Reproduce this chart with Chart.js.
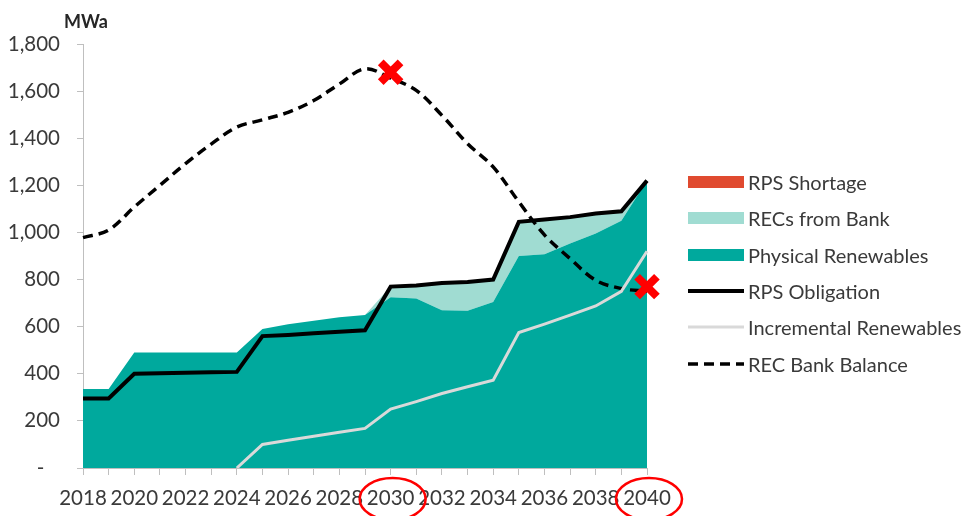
<!DOCTYPE html>
<html>
<head>
<meta charset="utf-8">
<script src="https://cdn.jsdelivr.net/npm/chart.js@4.4.1/dist/chart.umd.min.js"></script>
<style>
  html, body { margin: 0; padding: 0; background: #fff; }
  #wrap { position: relative; width: 968px; height: 516px; }
  #legend { position: absolute; left: 688px; top: 164px; font-family: Lato, sans-serif; font-size: 20px; color: #3a3a3a; }
  .row { display: flex; align-items: center; height: 36.3px; white-space: nowrap; }
  .sw { width: 56px; height: 12px; margin-right: 4px; display: block; }
</style>
</head>
<body>
<div id="wrap">
  <canvas id="rpsChart" width="968" height="516"></canvas>
  <div id="legend"></div>
</div>
<script>
// Valores (MWa)
const years = ['2018', '2019', '2020', '2021', '2022', '2023', '2024', '2025', '2026', '2027', '2028', '2029',
               '2030', '2031', '2032', '2033', '2034', '2035', '2036', '2037', '2038', '2039', '2040'];
const physicalRenewables = [335, 335, 490, 490, 490, 490, 490, 590, 610, 625, 640, 650,
                            725, 720, 670, 668, 705, 900, 907, 953, 995, 1050, 1220];
const recsFromBank = [0, 0, 0, 0, 0, 0, 0, 0, 0, 0, 0, 0,
                      45, 55, 115, 122, 95, 145, 148, 112, 85, 40, 0];
const rpsShortage = [0, 0, 0, 0, 0, 0, 0, 0, 0, 0, 0, 0,
                     0, 0, 0, 0, 0, 0, 0, 0, 0, 0, 0];
const rpsObligation = [295, 295, 400, 402, 404, 406, 408, 560, 565, 572, 578, 585,
                       770, 775, 785, 790, 800, 1045, 1055, 1065, 1080, 1090, 1220];
const incrementalRenewables = [null, null, null, null, null, null, 0, 100, 118, 135, 152, 168,
                               250, 282, 316, 345, 373, 575, 611, 649, 688, 750, 920];
const recBankBalance = [978, 1010, 1108, 1200, 1292, 1375, 1447, 1478, 1510, 1560, 1630, 1695,
                        1655, 1603, 1497, 1377, 1278, 1130, 990, 889, 797, 762, 750];
const depletionMarks = [null, null, null, null, null, null, null, null, null, null, null, null,
                        1680, null, null, null, null, null, null, null, null, null, 770];
const circledYears = ['2030', '2040'];
const yTicks = [0, 200, 400, 600, 800, 1000, 1200, 1400, 1600, 1800];

const FONT = 'Lato, sans-serif';
const TEXT = '#3a3a3a';
const AXIS = '#bfbfbf';

// Rótulo "MWa" e elipses vermelhas sobre os anos
const extrasPlugin = {
  id: 'extras',
  afterDraw(chart) {
    const { ctx, scales } = chart;
    ctx.save();
    ctx.fillStyle = '#262626';
    ctx.font = `bold 18px ${FONT}`;
    ctx.textBaseline = 'middle';
    ctx.fillText('MWa', 64, 22);

    ctx.strokeStyle = '#ff0000';
    ctx.lineWidth = 2.5;
    circledYears.forEach(y => {
      const x = scales.x.getPixelForValue(years.indexOf(y));
      ctx.beginPath();
      ctx.ellipse(x + 2, 499, 33, 21, 0, 0, Math.PI * 2);
      ctx.stroke();
    });
    ctx.restore();
  }
};

const chart = new Chart(document.getElementById('rpsChart').getContext('2d'), {
  type: 'line',
  data: {
    labels: years,
    datasets: [
      {
        label: 'Physical Renewables', data: physicalRenewables, stack: 'supply', order: 3,
        backgroundColor: '#00a99d', borderColor: '#00a99d', borderWidth: 0, fill: 'origin',
        pointRadius: 0, tension: 0, legendKind: 'box'
      },
      {
        label: 'RECs from Bank', data: recsFromBank, stack: 'supply', order: 3,
        backgroundColor: '#a0dcd2', borderColor: '#a0dcd2', borderWidth: 0, fill: '-1',
        pointRadius: 0, tension: 0, legendKind: 'box'
      },
      {
        label: 'RPS Shortage', data: rpsShortage, stack: 'supply', order: 3,
        backgroundColor: '#e04a2f', borderColor: '#e04a2f', borderWidth: 0, fill: '-1',
        pointRadius: 0, tension: 0, legendKind: 'box'
      },
      {
        label: 'RPS Obligation', data: rpsObligation, stack: 'obl', order: 1,
        borderColor: '#000000', borderWidth: 4, fill: false, pointRadius: 0, tension: 0,
        legendKind: 'line'
      },
      {
        label: 'Incremental Renewables', data: incrementalRenewables, stack: 'inc', order: 1,
        borderColor: '#d9d9d9', borderWidth: 3, fill: false, pointRadius: 0, tension: 0,
        legendKind: 'line'
      },
      {
        label: 'REC Bank Balance', data: recBankBalance, stack: 'bank', order: 1,
        borderColor: '#000000', borderWidth: 3.5, borderDash: [10, 6], fill: false,
        pointRadius: 0, tension: 0.35, legendKind: 'line'
      },
      {
        label: 'marks', data: depletionMarks, stack: 'marks', order: 0, showLine: false,
        pointStyle: 'crossRot', pointRadius: 14, pointBorderWidth: 8,
        pointBorderColor: '#ff0000', pointBackgroundColor: '#ff0000', legendKind: null
      }
    ]
  },
  options: {
    responsive: false,
    animation: false,
    devicePixelRatio: 1,
    layout: { padding: { top: 44, right: 321, left: 0, bottom: 0 } },
    plugins: { legend: { display: false }, tooltip: { enabled: false } },
    scales: {
      x: {
        afterFit(scale) { scale.height = 48; },
        border: { color: AXIS, width: 1 },
        grid: { drawOnChartArea: false, drawTicks: true, tickLength: 7, color: AXIS },
        ticks: {
          autoSkip: false, maxRotation: 0, padding: 11, color: TEXT,
          font: { family: FONT, size: 20.5 },
          callback: (v, i) => (i % 2 === 0 ? years[i] : '')
        }
      },
      y: {
        stacked: true,
        min: 0, max: 1800,
        afterFit(scale) { scale.width = 83; },
        afterBuildTicks(scale) { scale.ticks = yTicks.map(v => ({ value: v })); },
        border: { color: AXIS, width: 1 },
        grid: { drawOnChartArea: false, drawTicks: true, tickLength: 6, color: AXIS },
        ticks: {
          padding: 17, color: TEXT,
          font: { family: FONT, size: 20.5 },
          callback: v => (v === 0 ? '-   ' : v.toLocaleString('en-US'))
        }
      }
    }
  },
  plugins: [extrasPlugin]
});

// Legenda em HTML, montada a partir dos datasets
const legendOrder = ['RPS Shortage', 'RECs from Bank', 'Physical Renewables',
                     'RPS Obligation', 'Incremental Renewables', 'REC Bank Balance'];
const legendEl = document.getElementById('legend');
legendOrder.forEach(name => {
  const ds = chart.data.datasets.find(d => d.label === name);
  let swatch;
  if (ds.legendKind === 'box') {
    swatch = `<span class="sw" style="background:${ds.backgroundColor}"></span>`;
  } else {
    const dash = ds.borderDash ? `stroke-dasharray="${ds.borderDash.join(' ')}"` : '';
    swatch = `<svg class="sw" viewBox="0 0 56 12"><line x1="0" y1="6" x2="56" y2="6" stroke="${ds.borderColor}" stroke-width="${ds.borderWidth}" ${dash}/></svg>`;
  }
  legendEl.innerHTML += `<div class="row">${swatch}<span>${name}</span></div>`;
});
</script>
</body>
</html>
